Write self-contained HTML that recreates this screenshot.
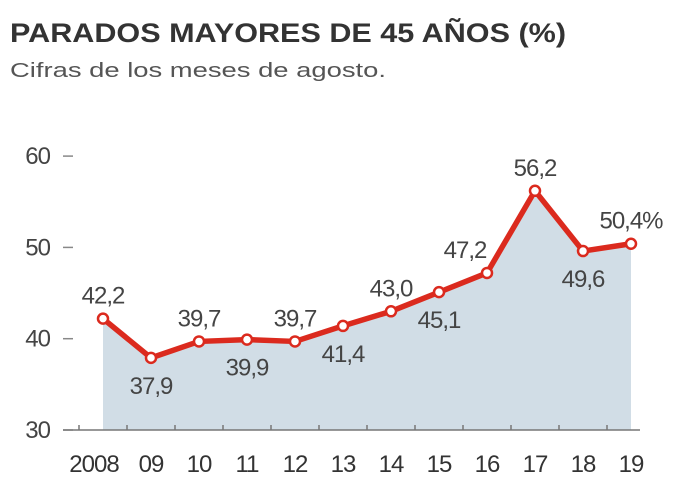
<!DOCTYPE html>
<html><head><meta charset="utf-8"><style>
body{margin:0;background:#fff;width:691px;height:490px;overflow:hidden;font-family:"Liberation Sans",sans-serif}
</style></head><body>
<svg width="691" height="490">
<text x="10" y="42" font-size="27" font-weight="bold" fill="#333" textLength="556" lengthAdjust="spacingAndGlyphs">PARADOS MAYORES DE 45 AÑOS (%)</text>
<text x="10" y="77" font-size="20" fill="#555" textLength="376" lengthAdjust="spacingAndGlyphs">Cifras de los meses de agosto.</text>
<g id="plot"></g>
</svg>
<script>
const categories=["2008","09","10","11","12","13","14","15","16","17","18","19"];
const values=[42.2,37.9,39.7,39.9,39.7,41.4,43.0,45.1,47.2,56.2,49.6,50.4];
const labels=["42,2","37,9","39,7","39,9","39,7","41,4","43,0","45,1","47,2","56,2","49,6","50,4%"];
const above=[1,0,1,0,1,0,1,0,1,1,0,1];
const yTicks=[30,40,50,60];
const NS="http://www.w3.org/2000/svg";
const g=document.getElementById('plot');
const x=i=>103+i*48.0;
const y=v=>430-(v-30)*9.13;
function mk(t,a,p){const e=document.createElementNS(NS,t);for(const k in a)e.setAttribute(k,a[k]);(p||g).appendChild(e);return e;}
const TS='font-size:24px;letter-spacing:-1px';
yTicks.forEach(v=>{
 const t=mk('text',{x:50,y:y(v)+8,style:TS,fill:'#444','text-anchor':'end'});t.textContent=v;
 
 
 const l=mk('line',{x1:63,x2:73,y1:y(v),y2:y(v),stroke:'#888','stroke-width':1.5});
 
 
});
let d='M'+x(0)+','+y(30);
values.forEach((v,i)=>d+=' L'+x(i)+','+y(v));
d+=' L'+x(values.length-1)+','+y(30)+'Z';
const area=mk('path',{d:d,fill:'#d1dde6'});


const base=mk('line',{x1:63,x2:640,y1:430,y2:430,stroke:'#777','stroke-width':1.5});


categories.forEach((c,i)=>{
 const tm=mk('line',{x1:x(i)-24,x2:x(i)-24,y1:425,y2:430,stroke:'#777','stroke-width':1.5});
 
 
 const t=mk('text',{x:i==0?x(i)-9:x(i),y:472,style:TS,fill:'#333','text-anchor':'middle'});t.textContent=c;
 
 
});
const line=mk('polyline',{points:values.map((v,i)=>x(i)+','+y(v)).join(' '),fill:'none',stroke:'#db2a1e','stroke-width':5.5,'stroke-linejoin':'round'});


values.forEach((v,i)=>{
 const c=mk('circle',{cx:x(i),cy:y(v),r:5,fill:'#fff',stroke:'#db2a1e','stroke-width':2.5});
 
 
 const lx=x(i)-(categories[i]=="16"?22:0);
 const t=mk('text',{x:lx,y:above[i]?y(v)-15:y(v)+36,style:TS,fill:'#444','text-anchor':'middle'});t.textContent=labels[i];
 
 
});
</script>
</body></html>
